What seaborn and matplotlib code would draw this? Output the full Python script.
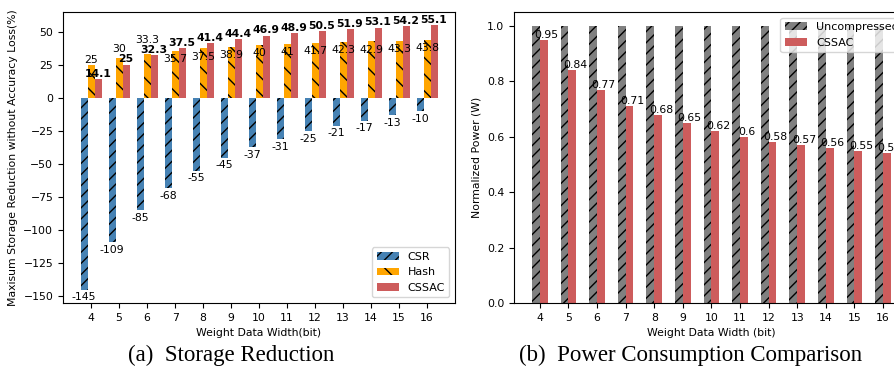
import pandas as pd
import numpy as np
import matplotlib.pyplot as plt
import seaborn as sns

# Data
widths = [4, 5, 6, 7, 8, 9, 10, 11, 12, 13, 14, 15, 16]
csr = [-145, -109, -85, -68, -55, -45, -37, -31, -25, -21, -17, -13, -10]
hash_vals = [25, 30, 33.3, 35.7, 37.5, 38.9, 40, 41, 41.7, 42.3, 42.9, 43.3, 43.8]
cssac = [14.1, 25, 32.3, 37.5, 41.4, 44.4, 46.9, 48.9, 50.5, 51.9, 53.1, 54.2, 55.1]
power_uncompressed = [1, 1, 1, 1, 1, 1, 1, 1, 1, 1, 1, 1, 1]
power_cssac = [0.95, 0.84, 0.77, 0.71, 0.68, 0.65, 0.62, 0.6, 0.58, 0.57, 0.56, 0.55, 0.54]

storage = pd.DataFrame({
    'Width': widths * 3,
    'Value': csr + hash_vals + cssac,
    'Method': ['CSR'] * 13 + ['Hash'] * 13 + ['CSSAC'] * 13,
})
power = pd.DataFrame({
    'Width': widths * 2,
    'Power': power_uncompressed + power_cssac,
    'Method': ['Uncompressed'] * 13 + ['CSSAC'] * 13,
})

plt.rcParams['hatch.linewidth'] = 1.0
fs = 7.8

fig = plt.figure(figsize=(8.94, 3.69), dpi=100)
ax1 = fig.add_axes([0.0705, 0.1789, 0.4385, 0.7886])
ax2 = fig.add_axes([0.575, 0.1789, 0.4415, 0.7886])

# (a) Storage reduction
sns.barplot(data=storage, x='Width', y='Value', hue='Method',
            palette=['#4682B4', '#FFA500', '#CD5C5C'], saturation=1,
            width=0.75, legend=False, ax=ax1)
hatches = ['///', '\\\\', '']
for cont, h in zip(ax1.containers, hatches):
    for p in cont.patches:
        p.set_hatch(h)
        p.set_edgecolor('black')
        p.set_linewidth(0)

csr_c, hash_c, cssac_c = ax1.containers
for i in range(len(widths)):
    p = csr_c.patches[i]
    ax1.text(p.get_x() + p.get_width() / 2, csr[i] - 2, f'{csr[i]:g}',
             ha='center', va='top', fontsize=fs)
    p = hash_c.patches[i]
    xc = p.get_x() + p.get_width() / 2
    if hash_vals[i] > cssac[i]:
        ax1.text(xc, max(hash_vals[i], cssac[i] + 8), f'{hash_vals[i]:g}',
                 ha='center', va='bottom', fontsize=fs)
    else:
        ax1.text(xc, hash_vals[i] - 2.5, f'{hash_vals[i]:g}',
                 ha='center', va='top', fontsize=fs)
    p = cssac_c.patches[i]
    ax1.text(p.get_x() + p.get_width() / 2, cssac[i] + 0.5, f'{cssac[i]:g}',
             ha='center', va='bottom', fontsize=fs, fontweight='bold')

ax1.set_xlim(-1.0, 13.0)
ax1.set_ylim(-155, 65.1)
ax1.set_xlabel('Weight Data Width(bit)', fontsize=fs)
ax1.set_ylabel('Maxisum Storage Reduction without Accuracy Loss(%)', fontsize=fs)
ax1.tick_params(labelsize=fs)
ax1.legend(handles=list(ax1.containers), labels=['CSR', 'Hash', 'CSSAC'],
           loc='lower right', fontsize=8)

# (b) Power consumption
sns.barplot(data=power, x='Width', y='Power', hue='Method',
            palette=['#808080', '#CD5C5C'], saturation=1,
            width=0.55, legend=False, ax=ax2)
for cont, h in zip(ax2.containers, ['///', '']):
    for p in cont.patches:
        p.set_hatch(h)
        p.set_edgecolor('black')
        p.set_linewidth(0)

red_c = ax2.containers[1]
for i in range(len(widths)):
    p = red_c.patches[i]
    ax2.text(p.get_x() + p.get_width() / 2 + 0.1, power_cssac[i], f'{power_cssac[i]:g}',
             ha='center', va='bottom', fontsize=fs)

ax2.set_xlim(-0.9, 12.9)
ax2.set_ylim(0, 1.05)
ax2.set_xlabel('Weight Data Width (bit)', fontsize=fs)
ax2.set_ylabel('Normalized Power (W)', fontsize=fs)
ax2.tick_params(labelsize=fs)
ax2.legend(handles=list(ax2.containers), labels=['Uncompressed', 'CSSAC'],
           loc='upper right', fontsize=8)

# Sub-figure captions
fig.text(0.259, 0.022, '(a)  Storage Reduction', ha='center', va='baseline',
         fontsize=16.5, family='Liberation Serif')
fig.text(0.773, 0.022, '(b)  Power Consumption Comparison', ha='center', va='baseline',
         fontsize=16.5, family='Liberation Serif')

fig.savefig('out.png', dpi=100)
